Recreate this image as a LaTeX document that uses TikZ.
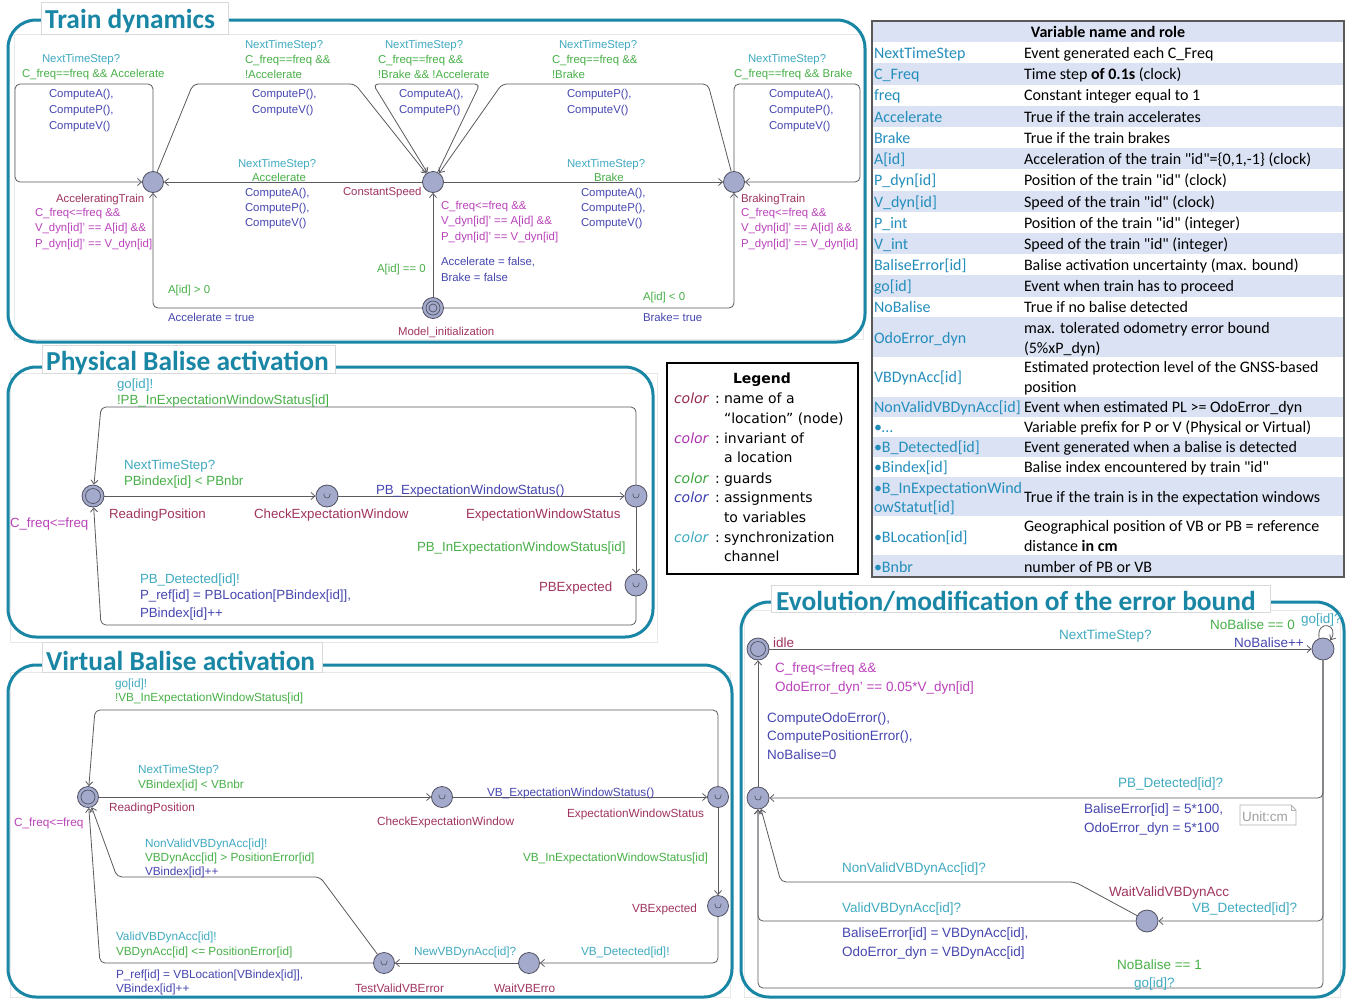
\documentclass[tikz,border=0pt]{standalone}
\usepackage{fontspec}
\setmainfont{Liberation Sans}
\newfontfamily\calfont{Carlito}
\newfontfamily\dvfont{DejaVu Sans}
\usetikzlibrary{arrows.meta}
\definecolor{csync}{RGB}{64,170,192}
\definecolor{cguard}{RGB}{72,176,72}
\definecolor{cassign}{RGB}{70,70,176}
\definecolor{cloc}{RGB}{160,52,96}
\definecolor{cinv}{RGB}{186,66,186}
\definecolor{cedge}{RGB}{90,90,96}
\definecolor{cnode}{RGB}{80,80,96}
\definecolor{nfill}{RGB}{163,170,204}
\definecolor{tealf}{RGB}{24,134,164}
\definecolor{tkey}{RGB}{36,142,188}
\definecolor{tfill}{RGB}{218,226,243}
\definecolor{lgloc}{RGB}{150,40,80}
\definecolor{lginv}{RGB}{175,50,175}
\definecolor{lggrd}{RGB}{60,165,60}
\definecolor{lgasg}{RGB}{60,60,175}
\definecolor{lgsyn}{RGB}{60,170,190}
\newcommand\fTD{\fontsize{11.4}{13}\selectfont}
\newcommand\fPB{\fontsize{13.3}{15}\selectfont}
\newcommand\fVB{\fontsize{11.8}{13}\selectfont}
\newcommand\fEV{\fontsize{13.5}{15}\selectfont}
\newcommand\fTB{\calfont\fontsize{16}{18}\selectfont}
\newcommand\fLG{\dvfont\fontsize{14}{16}\selectfont}
\newcommand\fTI{\calfont\bfseries\fontsize{27.4}{30}\selectfont}
\newcommand\umark[1]{\draw[cnode,line width=0.6pt] ([shift={(-3,-2.5)}]#1.center) -- ++(0,1.5) .. controls +(0,4) and +(0,4) .. ++(6,0) -- ++(0,-1.5);}
\begin{document}
\begin{tikzpicture}[x=1pt,y=-1pt,
  lab/.style={anchor=west,inner sep=0pt,outer sep=0pt,text height=0.75em,text depth=0.22em,yshift=-2.5pt},
  sy/.style={lab,text=csync},
  gd/.style={lab,text=cguard},
  as/.style={lab,text=cassign},
  lc/.style={lab,text=cloc},
  iv/.style={lab,text=cinv},
  loc/.style={circle,draw=cnode,fill=nfill,minimum size=21pt,inner sep=0pt,line width=0.8pt},
  bigloc/.style={loc,minimum size=22pt},
  ring/.style={draw=cnode,line width=0.7pt},
  edge/.style={draw=cedge,line width=0.8pt,-{Straight Barb[length=4pt,width=7pt]},rounded corners=5pt},
  frame/.style={draw=tealf,line width=3pt,rounded corners=28pt},
  faint/.style={draw=gray!18,line width=0.8pt},
  tbox/.style={fill=white,draw=gray!30,line width=0.8pt},
  ttl/.style={anchor=west,inner sep=0pt,text=tealf,font=\fTI,yshift=-1.5pt},
  tk/.style={lab,text=tkey,font=\fTB},
  tv/.style={lab,text=black,font=\fTB},
  lgc/.style={lab,font=\fLG\itshape},
  lgt/.style={lab,font=\fLG}
]
\fill[white] (0,0) rectangle (1352,999);
\useasboundingbox (0,0) rectangle (1352,999);

% ================= Train dynamics =================
\draw[faint] (14,34) rectangle (863,339);
\draw[frame] (8,20) rectangle (865,342);
\draw[tbox] (41,2) rectangle (228,34);
\node[ttl] (tTD) at (45,20) {Train dynamics};

\node[loc] (Acc) at (153,182) {};
\node[loc] (Con) at (433,182) {};
\node[loc] (Brk) at (734,182) {};
\node[loc] (Ini) at (433,308) {};
\draw[ring] (Ini) circle (7);
\draw[ring] (Ini) circle (4);

\draw[edge] (Acc.north) -- (153,84) -- (15,84) -- (15,182) -- (Acc);
\draw[edge] (Con) -- (Acc);
\draw[edge] (Acc) -- (193,84) -- (355,84) -- (Con);
\draw[edge] (Con) -- (480,84) -- (373,84) -- (Con);
\draw[edge] (Brk) -- (708,84) -- (502,84) -- (Con);
\draw[edge] (Con) -- (Brk);
\draw[edge] (Brk.north) -- (734,84) -- (860,84) -- (860,182) -- (Brk);
\draw[edge] (Ini) -- (153,308) -- (Acc);
\draw[edge] (Ini) -- (Con);
\draw[edge] (Ini) -- (734,308) -- (Brk);

\begin{scope}[every node/.append style={font=\fTD}]
\node[sy] at (42,57) {NextTimeStep?};
\node[gd] at (22,72) {C\_freq==freq \&\& Accelerate};
\node[as] at (49,92) {ComputeA(),};
\node[as] at (49,108) {ComputeP(),};
\node[as] at (49,124) {ComputeV()};

\node[sy] at (245,43) {NextTimeStep?};
\node[gd] at (245,58) {C\_freq==freq \&\&};
\node[gd] at (245,73) {!Accelerate};
\node[as] at (252,92) {ComputeP(),};
\node[as] at (252,108) {ComputeV()};

\node[sy] at (385,43) {NextTimeStep?};
\node[gd] at (378,58) {C\_freq==freq \&\&};
\node[gd] at (378,73) {!Brake \&\& !Accelerate};
\node[as] at (399,92) {ComputeA(),};
\node[as] at (399,108) {ComputeP()};

\node[sy] at (559,43) {NextTimeStep?};
\node[gd] at (552,58) {C\_freq==freq \&\&};
\node[gd] at (552,73) {!Brake};
\node[as] at (567,92) {ComputeP(),};
\node[as] at (567,108) {ComputeV()};

\node[sy] at (748,57) {NextTimeStep?};
\node[gd] at (734,72) {C\_freq==freq \&\& Brake};
\node[as] at (769,92) {ComputeA(),};
\node[as] at (769,108) {ComputeP(),};
\node[as] at (769,124) {ComputeV()};

\node[sy] at (238,162) {NextTimeStep?};
\node[gd] at (252,176) {Accelerate};
\node[as] at (245,191) {ComputeA(),};
\node[as] at (245,206) {ComputeP(),};
\node[as] at (245,221) {ComputeV()};

\node[sy] at (567,162) {NextTimeStep?};
\node[gd] at (594,176) {Brake};
\node[as] at (581,191) {ComputeA(),};
\node[as] at (581,206) {ComputeP(),};
\node[as] at (581,221) {ComputeV()};

\node[lc] at (56,197) {AcceleratingTrain};
\node[iv] at (35,211) {C\_freq<=freq \&\&};
\node[iv] at (35,226) {V\_dyn[id]' == A[id] \&\&};
\node[iv] at (35,242) {P\_dyn[id]' == V\_dyn[id]};

\node[lc] at (343,190) {ConstantSpeed};
\node[iv] at (441,204) {C\_freq<=freq \&\&};
\node[iv] at (441,219) {V\_dyn[id]' == A[id] \&\&};
\node[iv] at (441,235) {P\_dyn[id]' == V\_dyn[id]};
\node[as] at (441,260) {Accelerate = false,};
\node[as] at (441,276) {Brake = false};

\node[lc] at (741,197) {BrakingTrain};
\node[iv] at (741,211) {C\_freq<=freq \&\&};
\node[iv] at (741,226) {V\_dyn[id]' == A[id] \&\&};
\node[iv] at (741,242) {P\_dyn[id]' == V\_dyn[id]};

\node[gd] at (168,288) {A[id] > 0};
\node[as] at (168,316) {Accelerate = true};
\node[gd] at (377,267) {A[id] == 0};
\node[gd] at (643,295) {A[id] < 0};
\node[as] at (643,316) {Brake= true};
\node[lc] at (398,330) {Model\_initialization};
\end{scope}

% ================= Table =================
\fill[tfill] (872,21) rectangle (1344,42);
\foreach \a/\b in {63/85,106/127,148/169,191/212,233/254,275/297,317/357,397/417,437/457,477/516,555/576}
  \fill[tfill] (872,\a) rectangle (1344,\b);
\draw[gray!70!black,line width=1.3pt] (872,21) rectangle (1344,577);
\node[font=\fTB\bfseries,inner sep=0pt] (thead) at (1108,32) {Variable name and role};
\node[tk] at (874,53) {NextTimeStep};   \node[tv] at (1024,53) {Event generated each C\_Freq};
\node[tk] at (874,74) {C\_Freq};        \node[tv] at (1024,74) {Time step \textbf{of 0.1s} (clock)};
\node[tk] at (874,95) {freq};           \node[tv] at (1024,95) {Constant integer equal to 1};
\node[tk] at (874,117) {Accelerate};    \node[tv] at (1024,117) {True if the train accelerates};
\node[tk] at (874,138) {Brake};         \node[tv] at (1024,138) {True if the train brakes};
\node[tk] at (874,159) {A[id]};         \node[tv] at (1024,159) {Acceleration of the train "id"=\{0,1,-1\} (clock)};
\node[tk] at (874,180) {P\_dyn[id]};    \node[tv] at (1024,180) {Position of the train "id" (clock)};
\node[tk] at (874,202) {V\_dyn[id]};    \node[tv] at (1024,202) {Speed of the train "id" (clock)};
\node[tk] at (874,223) {P\_int};        \node[tv] at (1024,223) {Position of the train "id" (integer)};
\node[tk] at (874,244) {V\_int};        \node[tv] at (1024,244) {Speed of the train "id" (integer)};
\node[tk] at (874,265) {BaliseError[id]}; \node[tv] at (1024,265) {Balise activation uncertainty (max. bound)};
\node[tk] at (874,286) {go[id]};        \node[tv] at (1024,286) {Event when train has to proceed};
\node[tk] at (874,307) {NoBalise};      \node[tv] at (1024,307) {True if no balise detected};
\node[tk] at (874,338) {OdoError\_dyn}; \node[tv] at (1024,328) {max. tolerated odometry error bound};
                                        \node[tv] at (1024,348) {(5\%xP\_dyn)};
\node[tk] at (874,377) {VBDynAcc[id]};  \node[tv] at (1024,367) {Estimated protection level of the GNSS-based};
                                        \node[tv] at (1024,387) {position};
\node[tk] at (874,407) {NonValidVBDynAcc[id]}; \node[tv] at (1024,407) {Event when estimated PL >= OdoError\_dyn};
\node[tk] at (874,427) {•…};            \node[tv] at (1024,427) {Variable prefix for P or V (Physical or Virtual)};
\node[tk] at (874,447) {•B\_Detected[id]}; \node[tv] at (1024,447) {Event generated when a balise is detected};
\node[tk] at (874,467) {•Bindex[id]};   \node[tv] at (1024,467) {Balise index encountered by train "id"};
\node[tk] at (874,488) {•B\_InExpectationWind}; \node[tv] at (1024,497) {True if the train is in the expectation windows};
\node[tk] at (874,507) {owStatut[id]};
\node[tk] at (874,537) {•BLocation[id]}; \node[tv] at (1024,526) {Geographical position of VB or PB = reference};
                                        \node[tv] at (1024,546) {distance \textbf{in cm}};
\node[tk] at (874,567) {•Bnbr};         \node[tv] at (1024,567) {number of PB or VB};

% ================= Physical Balise =================
\draw[faint] (10,373) rectangle (657,642);
\draw[frame] (8,367) rectangle (653,637);
\draw[tbox] (42,345) rectangle (335,373);
\node[ttl] (tPB) at (46,362) {Physical Balise activation};

\node[bigloc] (PR) at (93,496) {};
\draw[ring] (PR) circle (7.5);
\node[bigloc] (PC) at (327,496) {}; \umark{PC}
\node[bigloc] (PE) at (636,496) {}; \umark{PE}
\node[bigloc] (PX) at (636,585) {}; \umark{PX}

\draw[edge] (PR) -- (PC);
\draw[edge] (PC) -- (PE);
\draw[edge] (PE) -- (PX);
\draw[edge] (PX) -- (636,625) -- (101,625) -- (PR);
\draw[edge] (PE) -- (636,407) -- (101,407) -- (PR);

\begin{scope}[every node/.append style={font=\fPB}]
\node[sy] at (117,383) {go[id]!};
\node[gd] at (117,399) {!PB\_InExpectationWindowStatus[id]};
\node[sy] at (124,464) {NextTimeStep?};
\node[gd] at (124,480) {PBindex[id] < PBnbr};
\node[as] at (376,489) {PB\_ExpectationWindowStatus()};
\node[lc] at (109,513) {ReadingPosition};
\node[lc] at (254,513) {CheckExpectationWindow};
\node[lc] at (466,513) {ExpectationWindowStatus};
\node[iv] at (10,522) {C\_freq<=freq};
\node[gd] at (417,546) {PB\_InExpectationWindowStatus[id]};
\node[sy] at (140,578) {PB\_Detected[id]!};
\node[as] at (140,594) {P\_ref[id] = PBLocation[PBindex[id]],};
\node[as] at (140,612) {PBindex[id]++};
\node[lc] at (539,586) {PBExpected};
\end{scope}

% ================= Legend =================
\draw[black,line width=1.2pt] (667,363) rectangle (858,574);
\node[font=\fLG\bfseries,inner sep=0pt] (lgd) at (762,380) {Legend};
\node[lgc,text=lgloc] at (674,398) {color}; \node[lgt] at (715,398) {:}; \node[lgt] at (724,398) {name of a};
\node[lgt] at (724,418) {“location” (node)};
\node[lgc,text=lginv] at (674,438) {color}; \node[lgt] at (715,438) {:}; \node[lgt] at (724,438) {invariant of};
\node[lgt] at (724,457) {a location};
\node[lgc,text=lggrd] at (674,478) {color}; \node[lgt] at (715,478) {:}; \node[lgt] at (724,478) {guards};
\node[lgc,text=lgasg] at (674,497) {color}; \node[lgt] at (715,497) {:}; \node[lgt] at (724,497) {assignments};
\node[lgt] at (724,517) {to variables};
\node[lgc,text=lgsyn] at (674,537) {color}; \node[lgt] at (715,537) {:}; \node[lgt] at (724,537) {synchronization};
\node[lgt] at (724,556) {channel};

% ================= Virtual Balise =================
\draw[faint] (10,672) rectangle (730,997);
\draw[frame] (8,665) rectangle (732,997);
\draw[tbox] (42,642) rectangle (322,672);
\node[ttl] (tVB) at (46,659) {Virtual Balise activation};

\node[loc] (VR) at (88,797) {};
\draw[ring] (VR) circle (7);
\node[loc] (VC) at (442,797) {}; \umark{VC}
\node[loc] (VE) at (718,797) {}; \umark{VE}
\node[loc] (VX) at (718,906) {}; \umark{VX}
\node[loc] (VW) at (529,963) {};
\node[loc] (VT) at (384,963) {}; \umark{VT}

\draw[edge] (VE) -- (718,710) -- (95,710) -- (VR);
\draw[edge] (VR) -- (VC);
\draw[edge] (VC) -- (VE);
\draw[edge] (VE) -- (VX);
\draw[edge] (VX) -- (718,963) -- (VW);
\draw[edge] (VW) -- (VT);
\draw[edge] (VT) -- (100,963) -- (VR);
\draw[edge] (VT) -- (320,877) -- (117,877) -- (VR);

\begin{scope}[every node/.append style={font=\fVB}]
\node[sy] at (115,682) {go[id]!};
\node[gd] at (115,696) {!VB\_InExpectationWindowStatus[id]};
\node[sy] at (138,768) {NextTimeStep?};
\node[gd] at (138,783) {VBindex[id] < VBnbr};
\node[lc] at (109,806) {ReadingPosition};
\node[iv] at (14,821) {C\_freq<=freq};
\node[sy] at (145,842) {NonValidVBDynAcc[id]!};
\node[gd] at (145,856) {VBDynAcc[id] > PositionError[id]};
\node[as] at (145,870) {VBindex[id]++};
\node[sy] at (116,935) {ValidVBDynAcc[id]!};
\node[gd] at (116,950) {VBDynAcc[id] <= PositionError[id]};
\node[as] at (116,973) {P\_ref[id] = VBLocation[VBindex[id]],};
\node[as] at (116,987) {VBindex[id]++};
\node[as] at (487,791) {VB\_ExpectationWindowStatus()};
\node[lc] at (377,820) {CheckExpectationWindow};
\node[lc] at (567,812) {ExpectationWindowStatus};
\node[gd] at (523,856) {VB\_InExpectationWindowStatus[id]};
\node[lc] at (632,907) {VBExpected};
\node[sy] at (414,950) {NewVBDynAcc[id]?};
\node[sy] at (581,950) {VB\_Detected[id]!};
\node[lc] at (355,987) {TestValidVBError};
\node[lc] at (494,987) {WaitVBErro};
\end{scope}

% ================= Evolution =================
\draw[faint] (744,610) rectangle (1340,997);
\draw[frame] (741,602) rectangle (1344,997);
\draw[tbox] (771,585) rectangle (1270,612);
\node[ttl] (tEV) at (776,600) {Evolution/modification of the error bound};

\node[bigloc] (Idle) at (758,649) {};
\draw[ring] (Idle) circle (7.5);
\node[bigloc] (N2) at (1323,649) {};
\node[bigloc] (U) at (758,798) {}; \umark{U}
\node[bigloc] (W) at (1147,921) {};

\draw[edge] (Idle) -- (N2);
\draw[edge] (N2.110) .. controls +(-3,-20) and +(10,-16) .. (N2.50);
\draw[edge] (N2) -- (1323,798) -- (U);
\draw[edge] (U) -- (Idle);
\draw[edge] (N2) -- (1323,921) -- (W);
\draw[edge] (W) -- (1075,882) -- (781,882) -- (U);
\draw[edge] (W) -- (758,921) -- (U);
\draw[edge] (N2) -- (1323,988) -- (758,988) -- (U);

\draw[gray!60,line width=0.8pt] (1240,805) -- (1291,805) -- (1296,810) -- (1296,825) -- (1240,825) -- cycle;
\draw[gray!60,line width=0.6pt] (1291,805) -- (1291,810) -- (1296,810);

\begin{scope}[every node/.append style={font=\fEV}]
\node[lc] at (773,642) {idle};
\node[sy] at (1059,634) {NextTimeStep?};
\node[gd] at (1210,624) {NoBalise == 0};
\node[as] at (1234,642) {NoBalise++};
\node[sy] at (1301,618) {go[id]?};
\node[iv] at (775,667) {C\_freq<=freq \&\&};
\node[iv] at (775,686) {OdoError\_dyn' == 0.05*V\_dyn[id]};
\node[as] at (767,717) {ComputeOdoError(),};
\node[as] at (767,735) {ComputePositionError(),};
\node[as] at (767,754) {NoBalise=0};
\node[sy] at (1118,782) {PB\_Detected[id]?};
\node[as] at (1084,808) {BaliseError[id] = 5*100,};
\node[as] at (1084,827) {OdoError\_dyn = 5*100};
\node[lab,text=gray!75] at (1242,816) {Unit:cm};
\node[sy] at (842,867) {NonValidVBDynAcc[id]?};
\node[lc] at (1109,891) {WaitValidVBDynAcc};
\node[sy] at (842,907) {ValidVBDynAcc[id]?};
\node[sy] at (1192,907) {VB\_Detected[id]?};
\node[as] at (842,932) {BaliseError[id] = VBDynAcc[id],};
\node[as] at (842,951) {OdoError\_dyn = VBDynAcc[id]};
\node[gd] at (1117,964) {NoBalise == 1};
\node[sy] at (1134,982) {go[id]?};
\end{scope}
\end{tikzpicture}
\end{document}
